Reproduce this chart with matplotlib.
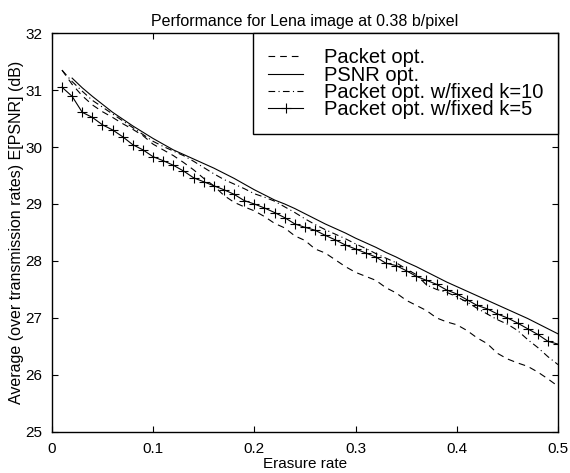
import matplotlib
matplotlib.use("Agg")
import matplotlib.pyplot as plt

plt.rcParams["font.family"] = ["Liberation Sans", "DejaVu Sans"]

# erasure rates 0.01 .. 0.50
erasure = [i / 100 for i in range(1, 51)]

packet_opt = [31.35, 31.10, 30.90, 30.74, 30.62, 30.52, 30.41, 30.31, 30.20, 30.05,
              29.95, 29.85, 29.73, 29.60, 29.45, 29.32, 29.15, 29.03, 28.95, 28.88,
              28.78, 28.66, 28.58, 28.44, 28.36, 28.21, 28.14, 28.02, 27.90, 27.80,
              27.73, 27.66, 27.53, 27.44, 27.31, 27.22, 27.13, 27.00, 26.93, 26.88,
              26.78, 26.65, 26.55, 26.38, 26.28, 26.21, 26.15, 26.05, 25.93, 25.80]

# PSNR opt starts at 0.02
psnr_x = erasure[1:]
psnr_opt = [31.21, 31.04, 30.89, 30.75, 30.61, 30.49, 30.37, 30.26, 30.15,
            30.05, 29.95, 29.87, 29.79, 29.71, 29.63, 29.54, 29.45, 29.35, 29.25,
            29.16, 29.07, 29.00, 28.92, 28.83, 28.74, 28.65, 28.57, 28.49, 28.40,
            28.32, 28.24, 28.15, 28.07, 27.98, 27.90, 27.81, 27.72, 27.63, 27.55,
            27.47, 27.39, 27.31, 27.23, 27.15, 27.07, 26.99, 26.90, 26.81, 26.72]

fixed_k10 = [31.35, 31.15, 30.98, 30.82, 30.70, 30.58, 30.46, 30.34, 30.22, 30.10,
             30.01, 29.93, 29.85, 29.75, 29.64, 29.53, 29.43, 29.35, 29.27, 29.18,
             29.12, 29.05, 28.95, 28.85, 28.74, 28.64, 28.55, 28.47, 28.39, 28.30,
             28.22, 28.13, 28.05, 27.97, 27.86, 27.76, 27.58, 27.50, 27.45, 27.37,
             27.28, 27.17, 27.07, 26.97, 26.89, 26.78, 26.62, 26.48, 26.32, 26.18]

fixed_k5 = [31.05, 30.89, 30.61, 30.52, 30.39, 30.30, 30.18, 30.04, 29.95, 29.83,
            29.76, 29.68, 29.58, 29.46, 29.39, 29.32, 29.25, 29.17, 29.06, 29.00,
            28.93, 28.85, 28.76, 28.65, 28.59, 28.54, 28.45, 28.37, 28.28, 28.21,
            28.14, 28.07, 27.96, 27.92, 27.83, 27.73, 27.66, 27.59, 27.49, 27.42,
            27.32, 27.22, 27.16, 27.07, 27.00, 26.91, 26.81, 26.71, 26.59, 26.54]

fig = plt.figure(figsize=(5.7, 4.73), dpi=100)
ax = fig.add_axes([0.091, 0.087, 0.888, 0.843])

ax.plot(erasure, packet_opt, color="black", lw=0.8, dashes=(6, 4.5), label="Packet opt.")
ax.plot(psnr_x, psnr_opt, color="black", lw=0.8, label="PSNR opt.")
ax.plot(erasure, fixed_k10, color="black", lw=0.8, dashes=(6, 3, 1, 3),
        label="Packet opt. w/fixed k=10")
ax.plot(erasure, fixed_k5, color="black", lw=0.8, marker="+", ms=7, mew=0.8,
        label="Packet opt. w/fixed k=5")

ax.set_xlim(0, 0.5)
ax.set_ylim(25, 32)
ax.set_xticks([0, 0.1, 0.2, 0.3, 0.4, 0.5])
ax.set_xticklabels(["0", "0.1", "0.2", "0.3", "0.4", "0.5"])
ax.tick_params(direction="in", top=True, right=True, labelsize=11, length=4)
ax.tick_params(axis="x", pad=7)
ax.tick_params(axis="y", pad=7)
for s in ax.spines.values():
    s.set_linewidth(1.0)

ax.set_title("Performance for Lena image at 0.38 b/pixel", fontsize=11.5, pad=5)
ax.set_xlabel("Erasure rate", fontsize=11, labelpad=1)
ax.set_ylabel("Average (over transmission rates) E[PSNR] (dB)", fontsize=11.5, labelpad=1)

leg = ax.legend(loc="upper right", fontsize=14.5, fancybox=False, framealpha=1,
                edgecolor="black", borderaxespad=0, handlelength=1.75,
                handletextpad=1.0, labelspacing=-0.08, borderpad=0.75)
leg.get_frame().set_linewidth(1.0)

fig.savefig("out.png", dpi=100)
